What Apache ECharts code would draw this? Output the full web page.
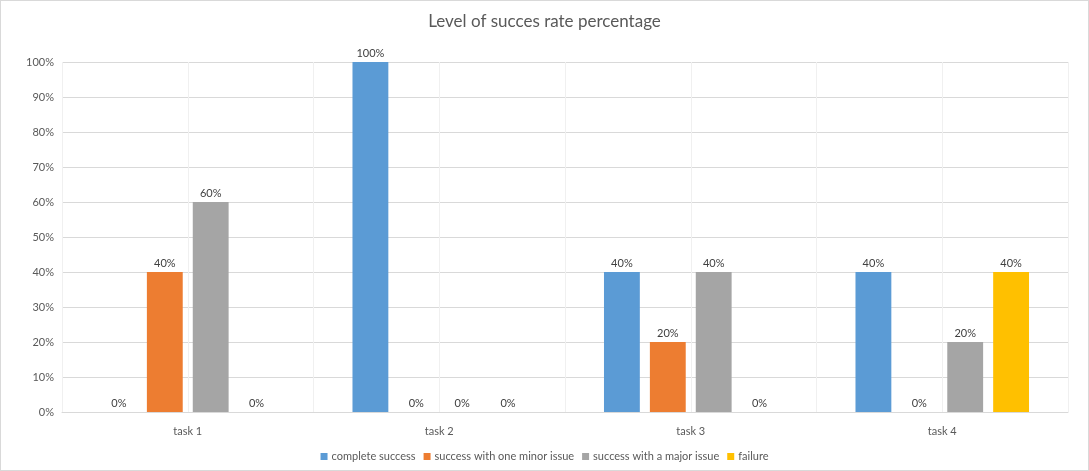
<!DOCTYPE html>
<html><head><meta charset="utf-8">
<script src="https://cdn.jsdelivr.net/npm/echarts@6/dist/echarts.min.js"></script>
<style>html,body{margin:0;padding:0;background:#fff}#c{width:1089px;height:471px;box-sizing:border-box;border:1px solid #d9d9d9}</style>
</head><body><div id="c"></div>
<script>
const categories = ['task 1','task 2','task 3','task 4'];
const completeSuccess = [0, 100, 40, 40];
const minorIssue = [40, 0, 20, 0];
const majorIssue = [60, 0, 40, 20];
const failure = [0, 0, 0, 40];
const halfCats = ['a','b','c','d','e','f','g','h'];

const chart = echarts.init(document.getElementById('c'));
const font = 'Lato, "Open Sans", sans-serif';
function s(name, data, color){
  return {name, type:'bar', data, itemStyle:{color}, barGap:'28%', barCategoryGap:'31%',
    label:{show:true, position:'top', formatter:'{c}%', color:'#404040', fontSize:11, fontFamily:font, distance:3}};
}
chart.setOption({
  animation:false,
  title:{text:'Level of succes rate percentage', left:'center', top:7, textStyle:{fontSize:17, fontWeight:'normal', color:'#595959', fontFamily:font}},
  grid:{left:61, right:20, top:61, bottom:58},
  legend:{bottom:3, left:'center', itemWidth:7, itemHeight:7, itemGap:8, icon:'rect',
    textStyle:{color:'#595959', fontSize:11, fontFamily:font, padding:[0,0,0,-1]},
    data:['complete success','success with one minor issue','success with a major issue','failure']},
  xAxis:[
    {type:'category', data:categories, axisLine:{lineStyle:{color:'#d9d9d9'}}, axisTick:{show:false},
     axisLabel:{color:'#595959', fontSize:11, fontFamily:font, margin:14},
     splitLine:{show:true, lineStyle:{color:'#d9d9d9'}}},
    {type:'category', data:halfCats, position:'bottom', axisLine:{show:false}, axisTick:{show:false}, axisLabel:{show:false},
     splitLine:{show:true, lineStyle:{color:'#f0f0f0'}}}
  ],
  yAxis:{type:'value', min:0, max:100, interval:10, axisLine:{show:false}, axisTick:{show:false},
    axisLabel:{formatter:'{value}%', color:'#595959', fontSize:11, fontFamily:font, margin:8},
    splitLine:{lineStyle:{color:'#d9d9d9'}}},
  series:[
    s('complete success', completeSuccess, '#5b9bd5'),
    s('success with one minor issue', minorIssue, '#ed7d31'),
    s('success with a major issue', majorIssue, '#a5a5a5'),
    s('failure', failure, '#ffc000')
  ]
});
</script></body></html>
